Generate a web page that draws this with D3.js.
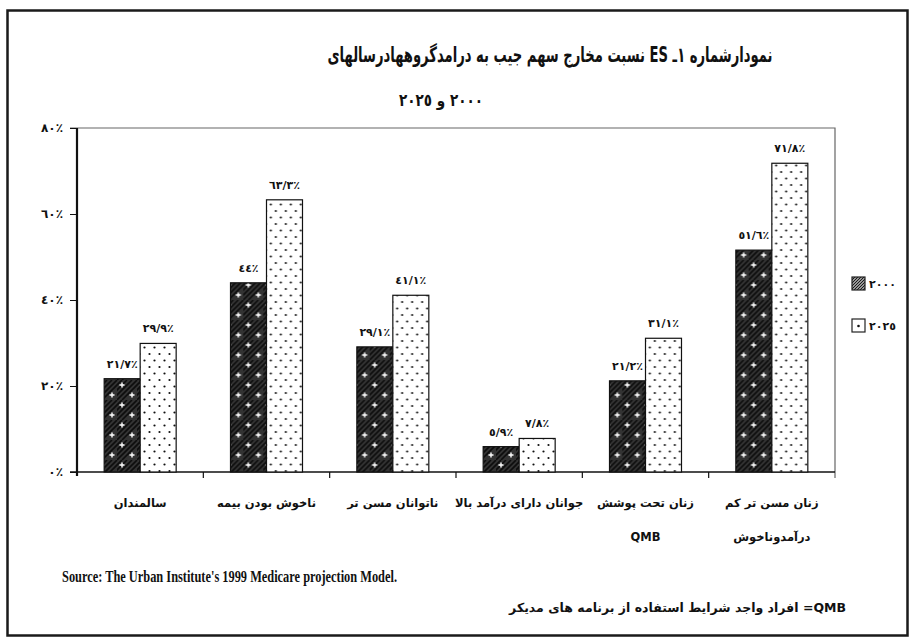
<!DOCTYPE html>
<meta charset="utf-8">
<style>
body { margin: 0; background: #fff; }
svg { display: block; }
.fa { font-family: "DejaVu Sans", sans-serif; font-weight: bold; fill: #111; }
.axis path, .axis line { stroke: #111; }
</style>
<svg width="910" height="639"></svg>
<script src="https://cdn.jsdelivr.net/npm/d3@7"></script>
<script>

// chart values
const categories = ["سالمندان", "ناخوش بودن بیمه", "ناتوانان مسن تر", "جوانان دارای درآمد بالا", "زنان تحت پوشش QMB", "زنان مسن تر کم درآمدوناخوش"];
const categoryLines = [["سالمندان"], ["ناخوش بودن بیمه"], ["ناتوانان مسن تر"], ["جوانان دارای درآمد بالا"], ["زنان تحت پوشش", "QMB"], ["زنان مسن تر کم", "درآمدوناخوش"]];
const seriesNames = ["2000", "2025"];
const seriesLabels = ["٢٠٠٠", "٢٠٢٥"];
const values2000 = [21.7, 44, 29.1, 5.9, 21.2, 51.6];
const values2025 = [29.9, 63.3, 41.1, 7.8, 31.1, 71.8];
const yTicks = [0, 20, 40, 60, 80];

const titleLine1 = "نمودارشماره ١ـ ES نسبت مخارج سهم جیب به درامدگروههادرسالهای";
const titleLine2 = "٢٠٠٠ و ٢٠٢٥";
const sourceText = "Source: The Urban Institute's 1999 Medicare projection Model.";
const noteText = "QMB= افراد واجد شرایط استفاده از برنامه های مدیکر";

const arDigits = "٠١٢٣٤٥٦٧٨٩";
function toAr(s) { return String(s).replace(/[0-9]/g, function(c) { return arDigits[+c]; }); }
function fmt(v) { return toAr(String(v).replace(".", "/")) + "٪"; }

const plot = {left: 77, right: 835, top: 128, bottom: 472};

const svg = d3.select("svg");

// patterns
const defs = svg.append("defs");
const pDark = defs.append("pattern")
    .attr("id", "p2000")
    .attr("patternUnits", "userSpaceOnUse")
    .attr("width", 20).attr("height", 20);
pDark.append("rect").attr("width", 20).attr("height", 20).attr("fill", "#333");
[0, 5, 10, 15, 20, 25].forEach(function(o) {
  pDark.append("line")
    .attr("x1", o - 20).attr("y1", 20).attr("x2", o).attr("y2", 0)
    .attr("stroke", "#0d0d0d").attr("stroke-width", 1.6);
});
[[5, 5], [15, 15]].forEach(function(c) {
  pDark.append("path")
    .attr("d", "M" + (c[0] - 2.5) + "," + c[1] + "h5M" + c[0] + "," + (c[1] - 2.5) + "v5")
    .attr("stroke", "#fff").attr("stroke-width", 1.4);
});

const pLight = defs.append("pattern")
    .attr("id", "p2025")
    .attr("patternUnits", "userSpaceOnUse")
    .attr("width", 10).attr("height", 13);
pLight.append("rect").attr("width", 10).attr("height", 13).attr("fill", "#fff");
pLight.append("circle").attr("cx", 2.5).attr("cy", 3).attr("r", 1.1).attr("fill", "#111");
pLight.append("circle").attr("cx", 7.5).attr("cy", 9.5).attr("r", 1.1).attr("fill", "#111");

const legHatch = defs.append("pattern")
    .attr("id", "pLeg")
    .attr("patternUnits", "userSpaceOnUse")
    .attr("width", 3).attr("height", 3);
legHatch.append("rect").attr("width", 3).attr("height", 3).attr("fill", "#ccc");
legHatch.append("path").attr("d", "M-1,1l2,-2M0,3l3,-3M2,4l2,-2").attr("stroke", "#111").attr("stroke-width", 1.1);

// outer frame
svg.append("rect")
    .attr("x", 7.5).attr("y", 10.5).attr("width", 900).attr("height", 625)
    .attr("fill", "none").attr("stroke", "#1a1a1a").attr("stroke-width", 2.5);

// title
svg.append("text").attr("class", "fa")
    .attr("x", 550).attr("y", 62)
    .attr("text-anchor", "middle").style("direction", "rtl")
    .attr("font-size", 21)
    .attr("textLength", 445).attr("lengthAdjust", "spacingAndGlyphs")
    .text(titleLine1);
svg.append("text").attr("class", "fa")
    .attr("x", 441).attr("y", 106)
    .attr("text-anchor", "middle").style("direction", "rtl")
    .attr("font-size", 17)
    .attr("textLength", 84).attr("lengthAdjust", "spacingAndGlyphs")
    .text(titleLine2);

// scales
const x = d3.scaleBand().domain(categories).range([plot.left, plot.right]).padding(0);
const xs = d3.scaleBand().domain(seriesNames).range([0, x.bandwidth()]).paddingInner(0).paddingOuter(0.755);
const y = d3.scaleLinear().domain([0, 80]).range([plot.bottom, plot.top]);

// plot frame (top and right)
svg.append("path")
    .attr("d", "M70," + y(80) + "H" + plot.right + "V" + (plot.bottom + 6))
    .attr("fill", "none").attr("stroke", "#666").attr("stroke-width", 1.2);

// y axis
const yAxis = svg.append("g").attr("class", "axis")
    .attr("transform", "translate(" + plot.left + ",0)")
    .call(d3.axisLeft(y).tickValues(yTicks).tickSize(7).tickPadding(7).tickFormat(fmt));
yAxis.select(".domain").attr("stroke-width", 2.2).attr("d", "M0," + y(80) + "V" + (plot.bottom + 4));
yAxis.selectAll("text").attr("class", "fa").attr("font-size", 12);

// x axis line + ticks at cell boundaries
svg.append("line")
    .attr("x1", 70).attr("x2", plot.right)
    .attr("y1", plot.bottom).attr("y2", plot.bottom)
    .attr("stroke", "#111").attr("stroke-width", 1.6);
svg.append("g").selectAll("line")
    .data(categories.slice(1))
    .join("line")
    .attr("x1", function(d) { return x(d); }).attr("x2", function(d) { return x(d); })
    .attr("y1", plot.bottom).attr("y2", plot.bottom + 6)
    .attr("stroke", "#111").attr("stroke-width", 1.2);

// bars
const rows = categories.map(function(c, i) {
  return {cat: c, lines: categoryLines[i], vals: [
    {s: "2000", v: values2000[i]},
    {s: "2025", v: values2025[i]}
  ]};
});

const groups = svg.append("g").selectAll("g")
    .data(rows)
    .join("g")
    .attr("transform", function(d) { return "translate(" + x(d.cat) + ",0)"; });

groups.selectAll("rect")
    .data(function(d) { return d.vals; })
    .join("rect")
    .attr("x", function(d) { return xs(d.s); })
    .attr("y", function(d) { return y(d.v); })
    .attr("width", xs.bandwidth())
    .attr("height", function(d) { return y(0) - y(d.v); })
    .attr("fill", function(d) { return "url(#p" + d.s + ")"; })
    .attr("stroke", "#111").attr("stroke-width", 1.2);

groups.selectAll("text.val")
    .data(function(d) { return d.vals; })
    .join("text")
    .attr("class", "val fa")
    .attr("x", function(d) { return xs(d.s) + xs.bandwidth() / 2; })
    .attr("y", function(d) { return y(d.v) - 11; })
    .attr("text-anchor", "middle")
    .attr("font-size", 11)
    .text(function(d) { return fmt(d.v); });

// category labels
groups.selectAll("text.cat")
    .data(function(d) { return d.lines; })
    .join("text")
    .attr("class", "cat fa")
    .attr("x", x.bandwidth() / 2)
    .attr("y", function(d, i) { return 507 + i * 34; })
    .attr("text-anchor", "middle")
    .style("direction", "rtl")
    .attr("font-size", 11.5)
    .text(function(d) { return d; });

// legend
const legend = svg.append("g").selectAll("g")
    .data(seriesNames)
    .join("g")
    .attr("transform", function(d, i) { return "translate(852," + (277 + i * 42) + ")"; });
legend.append("rect")
    .attr("width", 13).attr("height", 13)
    .attr("fill", function(d) { return d === "2000" ? "url(#pLeg)" : "#fff"; })
    .attr("stroke", "#222").attr("stroke-width", 1.2);
legend.filter(function(d) { return d === "2025"; }).append("circle")
    .attr("cx", 6.5).attr("cy", 7).attr("r", 1.3).attr("fill", "#111");
legend.append("text")
    .attr("class", "fa")
    .attr("x", 17).attr("y", 11)
    .attr("font-size", 11)
    .attr("letter-spacing", 2)
    .text(function(d, i) { return seriesLabels[i]; });

// source and note
svg.append("text")
    .attr("x", 62).attr("y", 582)
    .attr("font-family", "Liberation Serif, serif")
    .attr("font-weight", "bold")
    .attr("font-size", 16)
    .attr("textLength", 335).attr("lengthAdjust", "spacingAndGlyphs")
    .attr("fill", "#111")
    .text(sourceText);
svg.append("text").attr("class", "fa")
    .attr("x", 846).attr("y", 612)
    .attr("text-anchor", "start").style("direction", "rtl")
    .attr("font-size", 12.5)
    .text(noteText);
</script>
